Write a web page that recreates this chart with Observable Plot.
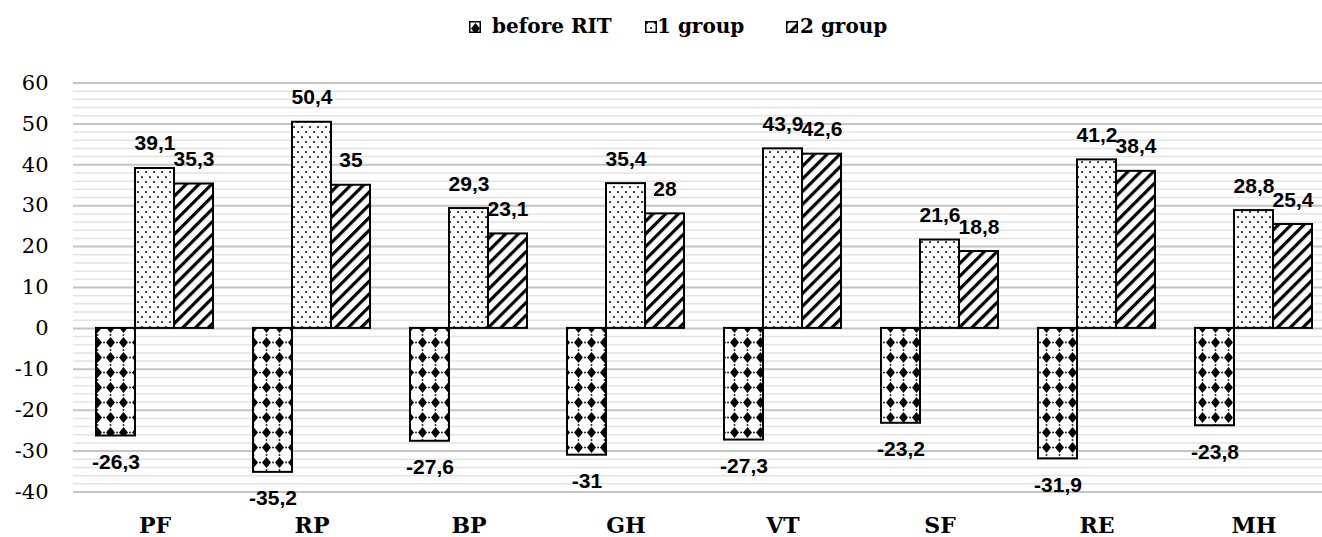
<!DOCTYPE html>
<html>
<head>
<meta charset="utf-8">
<script src="https://cdn.jsdelivr.net/npm/d3@7"></script>
<script src="https://cdn.jsdelivr.net/npm/@observablehq/plot@0.6"></script>
<style>
  html, body { margin: 0; padding: 0; background: #fff; overflow: hidden; }
  #legend { position: relative; height: 50px; width: 1322px;
            font-family: "DejaVu Serif", serif; font-weight: bold; font-size: 20px; color: #000; }
  #legend .sw { position: absolute; top: 21px; width: 12px; height: 12px; }
  #legend .lbl { position: absolute; top: 16px; line-height: 20px; white-space: nowrap; }
  #defs { position: absolute; width: 0; height: 0; }
</style>
</head>
<body>
<!-- fill patterns shared by the bars and the legend swatches -->
<svg id="defs" aria-hidden="true">
  <defs>
    <pattern id="pat-diamond" patternUnits="userSpaceOnUse" width="13" height="15">
      <rect width="13" height="15" fill="#fff"/>
      <polygon points="6.5,2 11,7.5 6.5,13 2,7.5" fill="#000"/>
      <rect x="-0.8" y="6.7" width="1.6" height="1.6" fill="#000"/>
      <rect x="12.2" y="6.7" width="1.6" height="1.6" fill="#000"/>
      <rect x="5.7" y="-0.8" width="1.6" height="1.6" fill="#000"/>
      <rect x="5.7" y="14.2" width="1.6" height="1.6" fill="#000"/>
    </pattern>
    <pattern id="pat-dots" patternUnits="userSpaceOnUse" width="8" height="10">
      <rect width="8" height="10" fill="#fff"/>
      <rect x="1.2" y="1.2" width="1.7" height="1.7" fill="#000"/>
      <rect x="5.2" y="6.2" width="1.7" height="1.7" fill="#000"/>
    </pattern>
    <pattern id="pat-hatch" patternUnits="userSpaceOnUse" width="9" height="9" patternTransform="rotate(45)">
      <rect width="9" height="9" fill="#fff"/>
      <rect x="0" y="0" width="3.2" height="9" fill="#000"/>
    </pattern>
  </defs>
</svg>
<div id="legend"></div>
<div id="chart"></div>
<script>
// SF-36 scale categories and the change per group
const categories = ["PF", "RP", "BP", "GH", "VT", "SF", "RE", "MH"];
const beforeRIT = [-26.3, -35.2, -27.6, -31, -27.3, -23.2, -31.9, -23.8];
const group1 = [39.1, 50.4, 29.3, 35.4, 43.9, 21.6, 41.2, 28.8];
const group2 = [35.3, 35, 23.1, 28, 42.6, 18.8, 38.4, 25.4];
const seriesNames = ["before RIT", "1 group", "2 group"];
const seriesFills = ["url(#pat-diamond)", "url(#pat-dots)", "url(#pat-hatch)"];
const yTicks = [-40, -30, -20, -10, 0, 10, 20, 30, 40, 50, 60];

const seriesValues = [beforeRIT, group1, group2];
const rows = seriesNames.map((name, i) =>
  categories.map((cat, j) => ({cat, series: name, value: seriesValues[i][j]}))
);
const fmt = v => String(v).replace(".", ",");
const minorTicks = d3.range(-40, 61, 2).filter(v => v % 10 !== 0);

// legend
const legend = document.getElementById("legend");
const legendPos = [[469, 492], [645, 657], [786, 800]];
seriesNames.forEach((name, i) => {
  const [sx, tx] = legendPos[i];
  legend.insertAdjacentHTML("beforeend",
    `<svg class="sw" style="left:${sx}px" viewBox="0 0 12 12">
       <rect x="0.75" y="0.75" width="10.5" height="10.5" fill="${seriesFills[i]}" stroke="#000" stroke-width="1.5"/>
     </svg>
     <span class="lbl" style="left:${tx}px">${name}</span>`);
});

// each of the three bars takes a third of a category band
const w = 39;
const barMarks = rows.map((data, i) =>
  Plot.barY(data, {
    x: "cat", y: "value", fill: seriesFills[i], stroke: "#000", strokeWidth: 2,
    insetLeft: i * w, insetRight: (2 - i) * w
  })
);
const labelStyle = {fontFamily: "Liberation Sans, Arial, sans-serif", fontWeight: "bold", fontSize: 21, fill: "#000"};
const labelMarks = rows.flatMap((data, i) => [
  Plot.text(data.filter(d => d.value >= 0), {
    x: "cat", y: "value", text: d => fmt(d.value), dx: (i - 1) * w, dy: -18, lineAnchor: "bottom", ...labelStyle
  }),
  Plot.text(data.filter(d => d.value < 0), {
    x: "cat", y: "value", text: d => fmt(d.value), dx: (i - 1) * w, dy: 18, lineAnchor: "top", ...labelStyle
  })
]);

const chart = Plot.plot({
  width: 1322,
  height: 487,
  marginTop: 32.5,
  marginBottom: 45.5,
  marginLeft: 73,
  marginRight: -12,
  style: {background: "#fff", overflow: "hidden", color: "#000"},
  x: {domain: categories, paddingInner: 0.2576, paddingOuter: 0.1288},
  y: {domain: [-40, 60]},
  marks: [
    Plot.ruleY(minorTicks, {stroke: "#e3e3e3", strokeWidth: 1.5}),
    Plot.ruleY(yTicks, {stroke: "#c4c4c4", strokeWidth: 2}),
    ...barMarks,
    ...labelMarks,
    Plot.axisY({ticks: yTicks, tickFormat: d => String(d), tickSize: 0, tickPadding: 25,
                fontSize: 21, fontFamily: "DejaVu Serif, serif", label: null}),
    Plot.axisX({tickSize: 0, tickPadding: 25, fontSize: 22, fontWeight: "bold",
                fontFamily: "DejaVu Serif, serif", label: null})
  ]
});
document.getElementById("chart").appendChild(chart);
</script>
</body>
</html>
